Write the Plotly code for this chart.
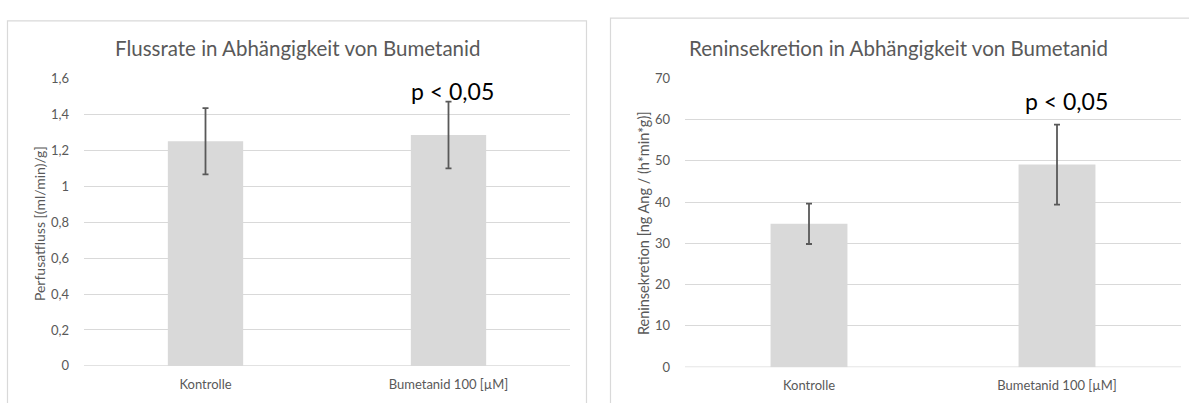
import plotly.graph_objects as go

# Figure size in pixels
W, H = 1189, 403

# Data
categories = ["Kontrolle", "Bumetanid 100 [µM]"]
flow_mean = [1.25, 1.285]
flow_err = [0.184, 0.186]
renin_mean = [34.75, 49.1]
renin_err = [4.9, 9.7]

flow_tickvals = [0, 0.2, 0.4, 0.6, 0.8, 1.0, 1.2, 1.4, 1.6]
flow_ticktext = ["0", "0,2", "0,4", "0,6", "0,8", "1", "1,2", "1,4", "1,6"]
renin_tickvals = [0, 10, 20, 30, 40, 50, 60, 70]
renin_ticktext = ["0", "10", "20", "30", "40", "50", "60", "70"]

sig_label = "p < 0,05"

FONT = "Lato"
GRID = "#d9d9d9"
TEXT = "#595959"
BAR = "#d9d9d9"
ERR = "#595959"


def fx(p):
    return p / W


def fy(p):
    return 1 - p / H


fig = go.Figure()

fig.add_trace(go.Bar(
    x=categories, y=flow_mean, width=0.31, marker=dict(color=BAR, line=dict(width=0)),
    error_y=dict(type="data", array=flow_err, color=ERR, thickness=1.8, width=3),
    xaxis="x", yaxis="y", showlegend=False, hoverinfo="skip",
))
fig.add_trace(go.Bar(
    x=categories, y=renin_mean, width=0.31, marker=dict(color=BAR, line=dict(width=0)),
    error_y=dict(type="data", array=renin_err, color=ERR, thickness=1.8, width=3),
    xaxis="x2", yaxis="y2", showlegend=False, hoverinfo="skip",
))

tick_font = dict(family=FONT, size=13, color=TEXT)

xaxis_common = dict(showgrid=False, zeroline=False, showline=False, ticks="",
                    tickfont=tick_font, ticklabelstandoff=9, fixedrange=True)
yaxis_common = dict(showgrid=True, gridcolor=GRID, gridwidth=1, zeroline=False,
                    showline=False, ticks="", tickfont=tick_font,
                    ticklabelstandoff=14, fixedrange=True)

# Baselines at y = 0 for both panels (horizontal category axis lines)
baselines = [
    dict(type="line", xref="x domain", yref="y", x0=0, x1=1, y0=0, y1=0,
         line=dict(color=GRID, width=1.2), layer="below"),
    dict(type="line", xref="x2 domain", yref="y2", x0=0, x1=1, y0=0, y1=0,
         line=dict(color=GRID, width=1.2), layer="below"),
]

frames = [
    dict(type="rect", xref="paper", yref="paper",
         x0=fx(7.5), x1=fx(586.5), y0=-0.2, y1=fy(13.5),
         line=dict(color=GRID, width=1.2), layer="below"),
    dict(type="rect", xref="paper", yref="paper",
         x0=fx(610.5), x1=1.2, y0=-0.2, y1=fy(10.5),
         line=dict(color=GRID, width=1.2), layer="below"),
]

fig.update_layout(
    width=W, height=H,
    margin=dict(l=0, r=0, t=0, b=0),
    paper_bgcolor="white", plot_bgcolor="white",
    bargap=0.69,
    xaxis=dict(domain=[fx(84), fx(570)], anchor="y", **xaxis_common),
    yaxis=dict(domain=[fy(372.7), fy(73.3)], anchor="x", range=[0, 1.6],
               tickvals=flow_tickvals, ticktext=flow_ticktext, **yaxis_common),
    xaxis2=dict(domain=[fx(685), fx(1181)], anchor="y2", **xaxis_common),
    yaxis2=dict(domain=[fy(374), fy(73.3)], anchor="x2", range=[0, 70],
                tickvals=renin_tickvals, ticktext=renin_ticktext, **yaxis_common),
    shapes=frames + baselines,
    annotations=[
        dict(text="Flussrate in Abhängigkeit von Bumetanid", xref="paper", yref="paper",
             x=fx(297), y=fy(42), xanchor="center", yanchor="middle", showarrow=False,
             font=dict(family=FONT, size=20.5, color=TEXT)),
        dict(text="Reninsekretion in Abhängigkeit von Bumetanid", xref="paper", yref="paper",
             x=fx(898), y=fy(42), xanchor="center", yanchor="middle", showarrow=False,
             font=dict(family=FONT, size=20.5, color=TEXT)),
        dict(text="Perfusatfluss [(ml/min)/g]", xref="paper", yref="paper",
             x=fx(39), y=fy(225), xanchor="center", yanchor="middle", textangle=-90,
             showarrow=False, font=dict(family=FONT, size=14, color=TEXT)),
        dict(text="Reninsekretion [ng Ang / (h*min*g)]", xref="paper", yref="paper",
             x=fx(643), y=fy(224), xanchor="center", yanchor="middle", textangle=-90,
             showarrow=False, font=dict(family=FONT, size=14.5, color=TEXT)),
        dict(text=sig_label, xref="x", yref="y", x=categories[1], y=1.53, xshift=4,
             xanchor="center", yanchor="middle", showarrow=False,
             font=dict(family=FONT, size=23, color="black")),
        dict(text=sig_label, xref="x2", yref="y2", x=categories[1], y=64.5, xshift=9,
             xanchor="center", yanchor="middle", showarrow=False,
             font=dict(family=FONT, size=23, color="black")),
    ],
)

fig.write_html("out.html")
